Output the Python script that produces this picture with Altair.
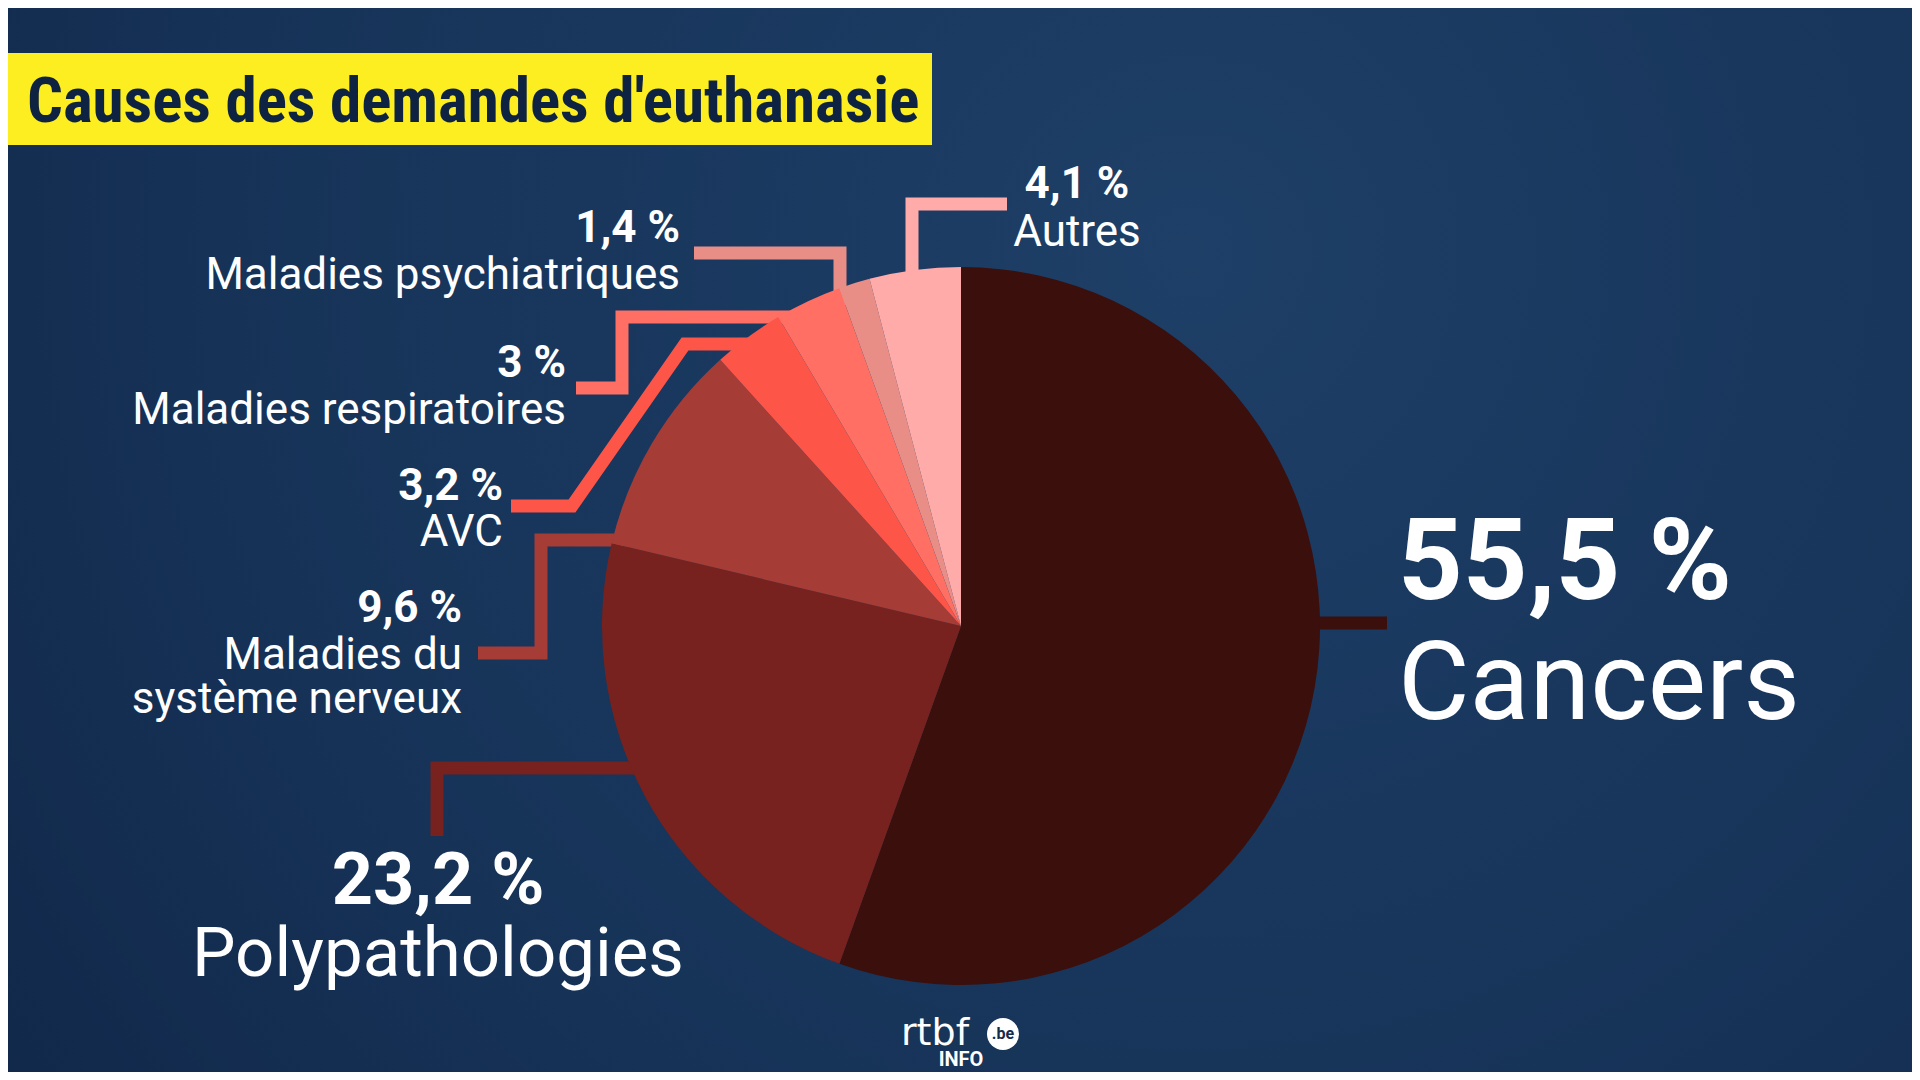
import altair as alt
import pandas as pd

# ---------------- data ----------------
categories = [
    "Cancers",
    "Polypathologies",
    "Maladies du système nerveux",
    "AVC",
    "Maladies respiratoires",
    "Maladies psychiatriques",
    "Autres",
]
shares = [55.5, 23.2, 9.6, 3.2, 3.0, 1.4, 4.1]
slice_colors = ["#3b0f0c", "#77221e", "#a63c36", "#fd5548", "#ff6f63", "#e98d87", "#ffabaa"]
name_lines = [
    ["Cancers"],
    ["Polypathologies"],
    ["Maladies du", "système nerveux"],
    ["AVC"],
    ["Maladies respiratoires"],
    ["Maladies psychiatriques"],
    ["Autres"],
]
title_text = "Causes des demandes d'euthanasie"

# ---------------- layout (reference pixel space) ----------------
W, H, OFF = 1904, 1064, 8
PIE_CX, PIE_CY, PIE_R = 961, 626, 359
LEAD_W = 13

label_layout = {
    "Cancers": dict(align="left", x=1398, pct_y=599, name_y=719, pct_size=113, name_size=110, line_h=110),
    "Polypathologies": dict(align="center", x=438, pct_y=904, name_y=976, pct_size=72, name_size=69, line_h=69),
    "Maladies du système nerveux": dict(align="right", x=462, pct_y=622, name_y=669, pct_size=44, name_size=44, line_h=44),
    "AVC": dict(align="right", x=503, pct_y=500, name_y=546, pct_size=44, name_size=44, line_h=44),
    "Maladies respiratoires": dict(align="right", x=566, pct_y=377, name_y=424, pct_size=44, name_size=44, line_h=44),
    "Maladies psychiatriques": dict(align="right", x=680, pct_y=242, name_y=289, pct_size=44, name_size=44, line_h=44),
    "Autres": dict(align="center", x=1077, pct_y=198, name_y=246, pct_size=44, name_size=44, line_h=44),
}

leader_layout = {
    "Cancers": [(1300, 623), (1387, 623)],
    "Polypathologies": [(655, 768), (437, 768), (437, 836)],
    "Maladies du système nerveux": [(478, 653), (541, 653), (541, 540), (635, 540)],
    "AVC": [(511, 506), (572, 506), (685, 344), (765, 344)],
    "Maladies respiratoires": [(576, 388), (622, 388), (622, 317), (805, 317)],
    "Maladies psychiatriques": [(694, 253), (840, 253), (840, 305)],
    "Autres": [(1007, 204), (912, 204), (912, 290)],
}

# ---------------- tables ----------------
pie_df = pd.DataFrame({"category": categories, "value": shares, "idx": list(range(len(categories)))})

line_rows = []
for cat in categories:
    for i, (px, py) in enumerate(leader_layout[cat]):
        line_rows.append(dict(category=cat, i=i, x=px - OFF, y=py - OFF))
line_df = pd.DataFrame(line_rows)

text_rows = []
for cat, val, lines in zip(categories, shares, name_lines):
    L = label_layout[cat]
    pct = f"{val:g}".replace(".", ",") + " %"
    text_rows.append(dict(category=cat, kind="pct", text=pct, x=L["x"] - OFF,
                          y=L["pct_y"] - OFF, size=L["pct_size"], align=L["align"], lh=L["line_h"]))
    for j, ln in enumerate(lines):
        text_rows.append(dict(category=cat, kind="name", text=ln, x=L["x"] - OFF,
                              y=L["name_y"] + j * L["line_h"] - OFF, size=L["name_size"],
                              align=L["align"], lh=L["line_h"]))
text_df = pd.DataFrame(text_rows)

color_scale = alt.Scale(domain=categories, range=slice_colors)
xs = alt.Scale(domain=[0, W], nice=False, zero=False)
ys = alt.Scale(domain=[H, 0], nice=False, zero=False)

# ---------------- layers ----------------
bg = alt.Chart(pd.DataFrame({"a": [0]})).mark_rect(
    color={
        "gradient": "radial",
        "stops": [
            {"offset": 0, "color": "#1e3f67"},
            {"offset": 0.6, "color": "#163257"},
            {"offset": 1, "color": "#0f2545"},
        ],
        "x1": 0.62, "y1": 0.35, "r1": 0,
        "x2": 0.62, "y2": 0.35, "r2": 0.85,
    }
).encode(x=alt.value(0), x2=alt.value(W), y=alt.value(0), y2=alt.value(H))

title_box = alt.Chart(pd.DataFrame({"a": [0]})).mark_rect(color="#fdee21").encode(
    x=alt.value(0), x2=alt.value(932 - OFF), y=alt.value(53 - OFF), y2=alt.value(145 - OFF)
)
title = alt.Chart(pd.DataFrame({"t": [title_text]})).mark_text(
    font="Roboto Condensed, Liberation Sans Narrow, Roboto",
    fontWeight="bold", fontSize=63, color="#0e2342", align="left", baseline="alphabetic",
).encode(text="t:N", x=alt.value(27 - OFF), y=alt.value(122 - OFF))

leaders = alt.Chart(line_df).mark_line(
    strokeWidth=LEAD_W, strokeCap="butt", strokeJoin="miter", interpolate="linear"
).encode(
    x=alt.X("x:Q", scale=xs, axis=None),
    y=alt.Y("y:Q", scale=ys, axis=None),
    detail="category:N",
    order=alt.Order("i:Q"),
    color=alt.Color("category:N", scale=color_scale, legend=None),
)

pie = alt.Chart(pie_df).mark_arc(radius=PIE_R).encode(
    theta=alt.Theta("value:Q", stack=True),
    order=alt.Order("idx:Q"),
    color=alt.Color("category:N", scale=color_scale, legend=None),
    x=alt.value(PIE_CX - OFF),
    y=alt.value(PIE_CY - OFF),
)

text_layers = []
for al in ["left", "center", "right"]:
    for kind, weight in [("pct", "bold"), ("name", "normal")]:
        text_layers.append(
            alt.Chart(text_df)
            .transform_filter((alt.datum.align == al) & (alt.datum.kind == kind))
            .mark_text(font="Roboto", fontWeight=weight, align=al, baseline="alphabetic", color="white")
            .encode(
                x=alt.X("x:Q", scale=xs, axis=None),
                y=alt.Y("y:Q", scale=ys, axis=None),
                text="text:N",
                size=alt.Size("size:Q", scale=None, legend=None),
            )
        )

# logo
logo_rtbf = alt.Chart(pd.DataFrame({"t": ["rtbf"]})).mark_text(
    font="DejaVu Sans", fontSize=38, color="white", align="left", baseline="alphabetic"
).encode(text="t:N", x=alt.value(901 - OFF), y=alt.value(1045 - OFF))
logo_dot = alt.Chart(pd.DataFrame({"a": [0]})).mark_point(
    shape="circle", filled=True, color="white", opacity=1, size=1024
).encode(x=alt.value(1003 - OFF), y=alt.value(1034 - OFF))
logo_be = alt.Chart(pd.DataFrame({"t": [".be"]})).mark_text(
    font="Roboto", fontWeight="bold", fontSize=16, color="#132c4d", align="center", baseline="middle"
).encode(text="t:N", x=alt.value(1003 - OFF), y=alt.value(1034 - OFF))
logo_info = alt.Chart(pd.DataFrame({"t": ["INFO"]})).mark_text(
    font="Roboto", fontWeight="bold", fontSize=20, color="white", align="center", baseline="alphabetic"
).encode(text="t:N", x=alt.value(961 - OFF), y=alt.value(1066 - OFF))

chart = alt.layer(
    bg, title_box, title, leaders, pie, *text_layers, logo_rtbf, logo_dot, logo_be, logo_info
).properties(
    width=W, height=H, padding=0, autosize="none", background="#132c4d"
).configure_view(stroke=None)

chart.save("out.html", embed_options={"renderer": "svg", "actions": False})
